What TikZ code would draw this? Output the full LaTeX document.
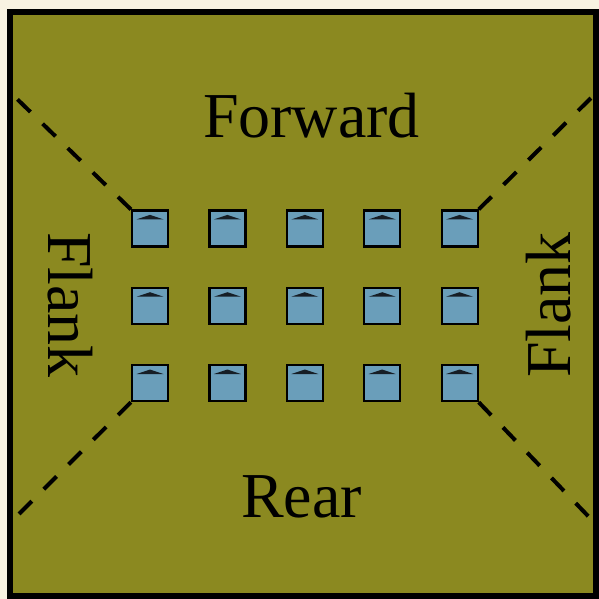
\documentclass[tikz,border=0pt]{standalone}
\usepackage{fontspec}
\setmainfont{Liberation Serif}
\usetikzlibrary{positioning}

\definecolor{cream}{RGB}{248,242,226}
\definecolor{olive}{RGB}{139,137,32}
\definecolor{tankblue}{RGB}{106,158,186}
\definecolor{tankmark}{RGB}{22,30,38}

\tikzset{
  unit/.style={draw=black, line width=2.2pt, fill=tankblue, minimum size=36pt, inner sep=0pt},
  sector/.style={font=\fontsize{64}{64}\selectfont, anchor=base, inner sep=0pt},
  arc line/.style={line width=4pt, dash pattern=on 18pt off 17pt}
}

\begin{document}
\begin{tikzpicture}[x=1pt, y=-1pt]
  % Fondo y campo
  \useasboundingbox (0,0) rectangle (599,599);
  \fill[cream] (0,0) rectangle (599,599);
  \draw[line width=6pt, fill=olive] (10,12) rectangle (596,596);

  % Unidades (5 columnas x 3 filas)
  \foreach \c in {1,...,5} {
    \foreach \r in {1,2,3} {
      \node[unit] (u-\c-\r) at ({150+77.4*(\c-1)}, {228.5+77.3*(\r-1)}) {};
      \fill[tankmark, shift={(u-\c-\r.north)}] (-13.5,10) -- (0,5.5) -- (13.5,10) -- cycle;
    }
  }

  % Extremos de las diagonales
  \coordinate (nw) at (15,97);
  \coordinate (ne) at (594,95);
  \coordinate (sw) at (15,518);
  \coordinate (se) at (589,517);

  % Diagonales
  \draw[arc line] (u-1-1.north west) -- (nw);
  \draw[arc line] (u-5-1.north east) -- (ne);
  \draw[arc line] (u-1-3.south west) -- (sw);
  \draw[arc line] (u-5-3.south east) -- (se);

  % Sectores
  \node[sector] (forward) at (311.5,137) {Forward};
  \node[sector] (rear) at (301.5,517) {Rear};
  \node[sector, rotate=-90] (flank-l) at (48,305) {Flank};
  \node[sector, rotate=90] (flank-r) at (570,305) {Flank};
\end{tikzpicture}
\end{document}
